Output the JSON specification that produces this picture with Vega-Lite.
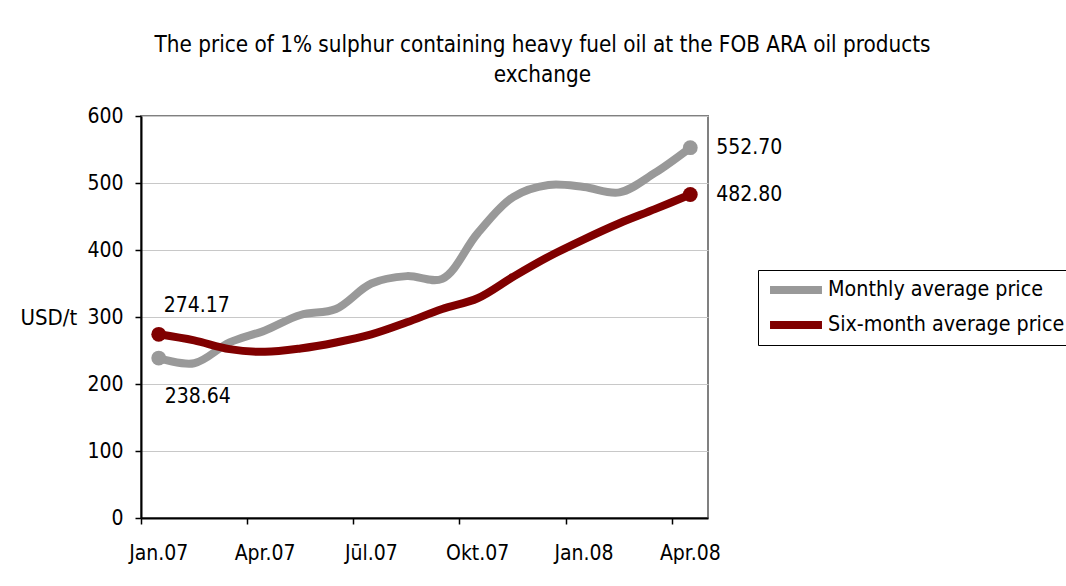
{
  "$schema": "https://vega.github.io/schema/vega-lite/v6.json",
  "autosize": {"type": "none"},
  "padding": {"left": 141, "top": 116, "right": 358, "bottom": 68},
  "width": 567,
  "height": 402,
  "background": "white",
  "title": {
    "text": ["The price of 1% sulphur containing heavy fuel oil at the FOB ARA oil products", "exchange"],
    "anchor": "middle",
    "frame": "group",
    "dx": 118,
    "offset": 19,
    "font": "DejaVu Sans Condensed",
    "fontSize": 22.3,
    "fontWeight": "normal",
    "lineHeight": 30,
    "color": "black"
  },
  "config": {
    "view": {"stroke": "#808080", "strokeWidth": 2},
    "font": "DejaVu Sans Condensed",
    "axis": {
      "labelFont": "DejaVu Sans Condensed",
      "labelFontSize": 21,
      "labelColor": "black",
      "domainColor": "black",
      "domainWidth": 2,
      "tickColor": "black",
      "tickWidth": 1.5,
      "tickSize": 6
    },
    "legend": {
      "labelFont": "DejaVu Sans Condensed",
      "labelFontSize": 21.3,
      "labelColor": "black"
    }
  },
  "data": {
    "values": [
      {"month": "Jan.07", "series": "Monthly average price", "price": 238.64},
      {"month": "Feb.07", "series": "Monthly average price", "price": 231},
      {"month": "Mar.07", "series": "Monthly average price", "price": 262},
      {"month": "Apr.07", "series": "Monthly average price", "price": 280},
      {"month": "Mai.07", "series": "Monthly average price", "price": 303},
      {"month": "Jūn.07", "series": "Monthly average price", "price": 312},
      {"month": "Jūl.07", "series": "Monthly average price", "price": 350},
      {"month": "Aug.07", "series": "Monthly average price", "price": 361},
      {"month": "Sep.07", "series": "Monthly average price", "price": 357},
      {"month": "Okt.07", "series": "Monthly average price", "price": 425},
      {"month": "Nov.07", "series": "Monthly average price", "price": 479},
      {"month": "Dec.07", "series": "Monthly average price", "price": 497},
      {"month": "Jan.08", "series": "Monthly average price", "price": 494},
      {"month": "Feb.08", "series": "Monthly average price", "price": 486},
      {"month": "Mar.08", "series": "Monthly average price", "price": 515},
      {"month": "Apr.08", "series": "Monthly average price", "price": 552.70},
      {"month": "Jan.07", "series": "Six-month average price", "price": 274.17},
      {"month": "Feb.07", "series": "Six-month average price", "price": 265},
      {"month": "Mar.07", "series": "Six-month average price", "price": 252},
      {"month": "Apr.07", "series": "Six-month average price", "price": 248},
      {"month": "Mai.07", "series": "Six-month average price", "price": 253},
      {"month": "Jūn.07", "series": "Six-month average price", "price": 262},
      {"month": "Jūl.07", "series": "Six-month average price", "price": 274},
      {"month": "Aug.07", "series": "Six-month average price", "price": 292},
      {"month": "Sep.07", "series": "Six-month average price", "price": 312},
      {"month": "Okt.07", "series": "Six-month average price", "price": 328},
      {"month": "Nov.07", "series": "Six-month average price", "price": 360},
      {"month": "Dec.07", "series": "Six-month average price", "price": 390},
      {"month": "Jan.08", "series": "Six-month average price", "price": 416},
      {"month": "Feb.08", "series": "Six-month average price", "price": 440},
      {"month": "Mar.08", "series": "Six-month average price", "price": 461},
      {"month": "Apr.08", "series": "Six-month average price", "price": 482.80}
    ]
  },
  "encoding": {
    "x": {
      "field": "month",
      "type": "ordinal",
      "bandPosition": 0.5,
      "scale": {
        "type": "band",
        "paddingInner": 0,
        "paddingOuter": 0,
        "domain": ["Jan.07","Feb.07","Mar.07","Apr.07","Mai.07","Jūn.07","Jūl.07","Aug.07","Sep.07","Okt.07","Nov.07","Dec.07","Jan.08","Feb.08","Mar.08","Apr.08"]
      },
      "axis": {
        "title": null,
        "values": ["Jan.07","Apr.07","Jūl.07","Okt.07","Jan.08","Apr.08"],
        "bandPosition": 0,
        "labelOffset": 0,
        "labelAngle": 0,
        "labelPadding": 18,
        "grid": false
      }
    },
    "y": {
      "field": "price",
      "type": "quantitative",
      "scale": {"domain": [0, 600], "nice": false, "zero": true},
      "axis": {
        "values": [0, 100, 200, 300, 400, 500, 600],
        "title": "USD/t",
        "titleAngle": 0,
        "titleAlign": "left",
        "titleBaseline": "middle",
        "titleX": -121,
        "titleY": 201,
        "titleFont": "DejaVu Sans Condensed",
        "titleFontSize": 22,
        "titleFontWeight": "normal",
        "titleColor": "black",
        "labelPadding": 12,
        "grid": true,
        "gridColor": "#c8c8c8",
        "gridWidth": 1
      }
    },
    "color": {
      "field": "series",
      "type": "nominal",
      "scale": {
        "domain": ["Monthly average price", "Six-month average price"],
        "range": ["#999999", "#800000"]
      },
      "legend": {
        "title": null,
        "orient": "none",
        "legendX": 617,
        "legendY": 154,
        "symbolType": "stroke",
        "symbolStrokeWidth": 8,
        "symbolSize": 2700,
        "strokeColor": "black",
        "padding": 8,
        "rowPadding": 11,
        "clipHeight": 24,
        "labelLimit": 0,
        "labelOffset": 2,
        "symbolOffset": 0
      }
    }
  },
  "layer": [
    {
      "mark": {"type": "line", "strokeWidth": 8, "interpolate": "catmull-rom", "strokeCap": "butt"}
    },
    {
      "transform": [{"filter": {"field": "month", "oneOf": ["Jan.07", "Apr.08"]}}],
      "mark": {"type": "circle", "size": 220, "opacity": 1}
    },
    {
      "transform": [{"filter": {"field": "month", "equal": "Apr.08"}}],
      "mark": {"type": "text", "align": "left", "baseline": "middle", "dx": 26, "fontSize": 21, "font": "DejaVu Sans Condensed"},
      "encoding": {
        "text": {"field": "price", "type": "quantitative", "format": ".2f"},
        "color": {"value": "black"}
      }
    },
    {
      "transform": [
        {"filter": {"field": "month", "equal": "Jan.07"}},
        {"filter": {"field": "series", "equal": "Six-month average price"}}
      ],
      "mark": {"type": "text", "align": "center", "baseline": "middle", "dx": 38, "dy": -28, "fontSize": 21, "font": "DejaVu Sans Condensed"},
      "encoding": {
        "text": {"field": "price", "type": "quantitative", "format": ".2f"},
        "color": {"value": "black"}
      }
    },
    {
      "transform": [
        {"filter": {"field": "month", "equal": "Jan.07"}},
        {"filter": {"field": "series", "equal": "Monthly average price"}}
      ],
      "mark": {"type": "text", "align": "center", "baseline": "middle", "dx": 39, "dy": 39, "fontSize": 21, "font": "DejaVu Sans Condensed"},
      "encoding": {
        "text": {"field": "price", "type": "quantitative", "format": ".2f"},
        "color": {"value": "black"}
      }
    }
  ]
}
